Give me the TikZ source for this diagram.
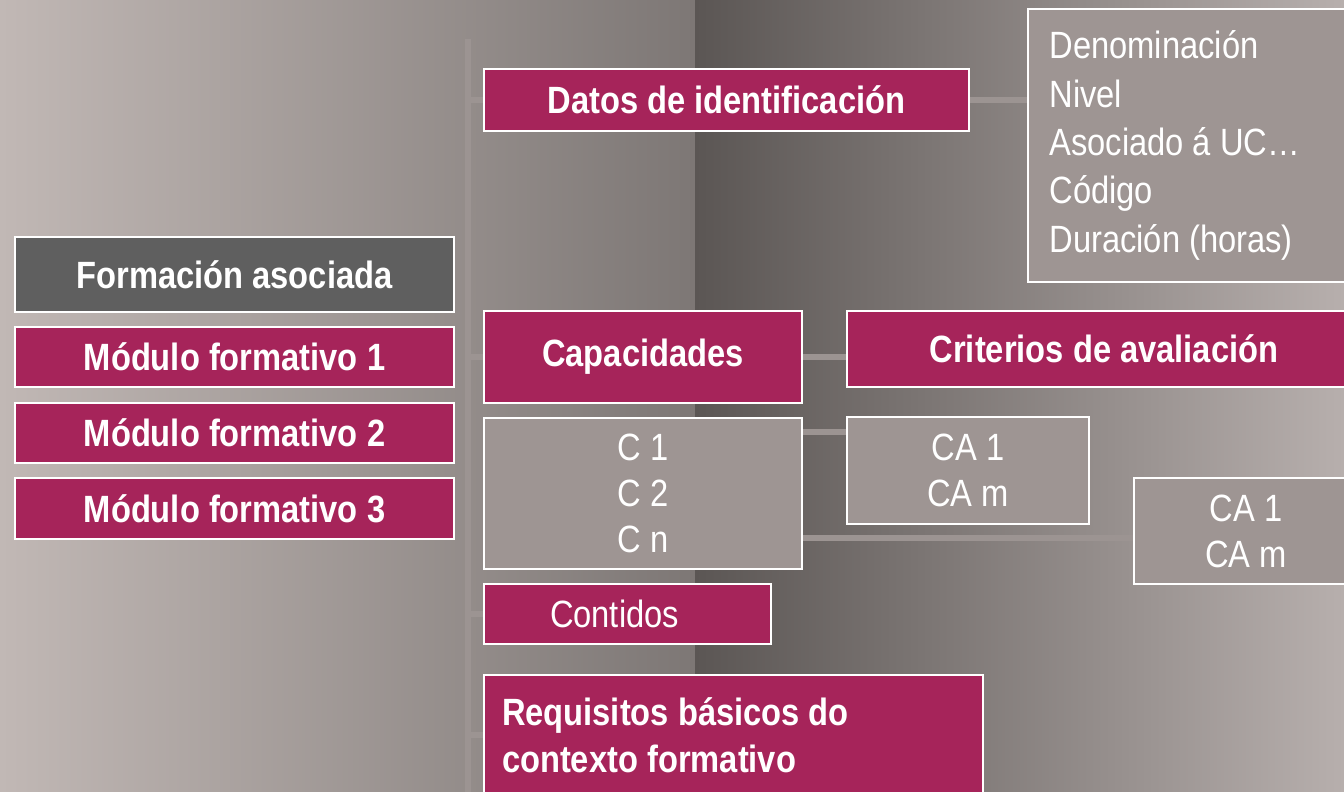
\documentclass[tikz,border=0pt]{standalone}
\usepackage{fontspec}
\setmainfont{Liberation Sans}[FakeStretch=0.86]
\definecolor{mag}{HTML}{A6245A}
\definecolor{boxgrey}{HTML}{9E9593}
\definecolor{darkbox}{HTML}{5F5F5F}
\definecolor{linecol}{HTML}{9C9492}
\definecolor{bgA}{HTML}{C1B8B5}
\definecolor{bgB}{HTML}{7D7775}
\definecolor{bgC}{HTML}{5B5654}
\definecolor{bgD}{HTML}{B7AFAD}
\pgfdeclarelayer{back}
\pgfdeclarelayer{bg}
\pgfsetlayers{back,bg,main}
\tikzset{
  base/.style={anchor=north west, draw=white, line width=2pt, inner sep=0pt,
    text=white, font=\fontsize{38}{47}\selectfont},
  magbox/.style={base, fill=mag, font=\fontsize{38}{47}\selectfont\bfseries},
  magplain/.style={base, fill=mag},
  greybox/.style={base, fill=boxgrey, align=center},
  darkbox/.style={base, fill=darkbox, font=\fontsize{38}{47}\selectfont\bfseries},
  conn/.style={draw=linecol, line width=6pt},
}
\begin{document}
\begin{tikzpicture}[x=1pt,y=-1pt]
\useasboundingbox (0,0) rectangle (1344,792);
\clip (0,0) rectangle (1344,792);
\begin{pgfonlayer}{back}
\shade[left color=bgA, right color=bgB] (0,0) rectangle (695,792);
\shade[left color=bgC, right color=bgD] (695,0) rectangle (1344,792);
\end{pgfonlayer}

% left column
\node[darkbox, minimum width=439pt, minimum height=75pt] (form) at (14,236) {Formación asociada};
\node[magbox, minimum width=439pt, minimum height=60pt] (m1) at (14,326) {Módulo formativo 1};
\node[magbox, minimum width=439pt, minimum height=60pt] (m2) at (14,402) {Módulo formativo 2};
\node[magbox, minimum width=439pt, minimum height=61pt] (m3) at (14,477) {Módulo formativo 3};

% vertical spine
\coordinate (vtop) at (468,39);
\coordinate (vbot) at (468,800);

% middle column
\node[magbox, minimum width=485pt, minimum height=62pt] (datos) at (483,68) {Datos de identificación};
\node[greybox, align=flush left, text width=290pt, minimum width=333pt, minimum height=273pt, inner xsep=20pt, font=\fontsize{38}{48.3}\selectfont] (info) at (1027,8)
  {Denominación\\Nivel\\Asociado á UC…\\Código\\Duración (horas)};
\node[magbox, minimum width=318pt, minimum height=92pt] (cap) at (483,310) {Capacidades};
\node[magbox, minimum width=514pt, minimum height=76pt] (crit) at (846,310) {Criterios de avaliación};
\node[greybox, minimum width=318pt, minimum height=151pt, font=\fontsize{38}{46}\selectfont] (cbox) at (483,417) {C 1\\C 2\\C n};
\node[greybox, minimum width=242pt, minimum height=107pt, font=\fontsize{38}{46}\selectfont] (ca1) at (846,416) {CA 1\\CA m};
\node[greybox, minimum width=224pt, minimum height=106pt, font=\fontsize{38}{46}\selectfont] (ca2) at (1133,477) {CA 1\\CA m};
\node[magplain, minimum width=287pt, minimum height=60pt] (cont) at (483,583) {\hspace*{-26pt}Contidos};
\node[magbox, align=flush left, text width=463pt, inner xsep=18pt, minimum width=499pt, minimum height=120pt] (req) at (483,674) {Requisitos básicos do\\contexto formativo};

\coordinate (k1) at (846,432);
\coordinate (k2) at (1133,538);

\begin{pgfonlayer}{bg}
\draw[conn] (vtop) -- (vbot);
\draw[conn] (datos.west -| vtop) -- (datos.west);
\draw[conn] (cap.west -| vtop) -- (cap.west);
\draw[conn] (cont.west -| vtop) -- (cont.west);
\draw[conn] (req.west -| vtop) -- (req.west);
\draw[conn] (datos.east) -- (datos.east -| info.west);
\draw[conn] (cap.east) -- (cap.east -| crit.west);
\draw[conn] (cbox.east |- k1) -- (k1);
\draw[conn] (cbox.east |- k2) -- (k2);
\end{pgfonlayer}
\end{tikzpicture}
\end{document}
